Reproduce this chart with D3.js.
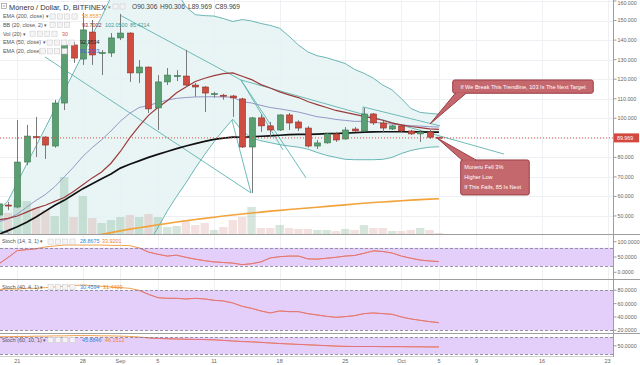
<!DOCTYPE html>
<html><head><meta charset="utf-8">
<script src="https://cdn.jsdelivr.net/npm/d3@7"></script>
<style>body{margin:0;background:#fff}svg{display:block;font-family:"Liberation Sans",Arial,sans-serif}</style>
</head><body><svg id="c" width="640" height="365"></svg>
<script>
// ---------- DATA ----------
const days=["2017-08-19","2017-08-20","2017-08-21","2017-08-22","2017-08-23","2017-08-24","2017-08-25","2017-08-26","2017-08-27","2017-08-28","2017-08-29","2017-08-30","2017-08-31",
"2017-09-01","2017-09-02","2017-09-03","2017-09-04","2017-09-05","2017-09-06","2017-09-07","2017-09-08","2017-09-09","2017-09-10","2017-09-11","2017-09-12","2017-09-13","2017-09-14","2017-09-15","2017-09-16","2017-09-17","2017-09-18","2017-09-19","2017-09-20","2017-09-21","2017-09-22","2017-09-23","2017-09-24","2017-09-25","2017-09-26","2017-09-27","2017-09-28","2017-09-29","2017-09-30",
"2017-10-01","2017-10-02","2017-10-03","2017-10-04","2017-10-05"];
const open=[50.5,55.6,54.6,77.6,90.6,90.4,85.8,107.8,137.5,130.3,144.1,133.2,133.4,141.1,143.6,123.2,126.2,105.3,118.6,121.4,121.6,117,116,112.2,111.8,111.4,109.9,85.3,100.2,96.1,94,101.7,98.1,95,85.8,87.4,92,89.4,94.5,93.5,102.2,97.6,94.5,96.1,93.5,92,93,90.306];
const high=[57,57.2,99.1,96.6,100.7,90.8,109.4,140.1,139,153.9,150.3,134.9,143.6,153.4,144,129.8,126.5,122.1,125.7,124.6,135,118,116.5,113.5,112.5,112,110.5,100.7,102,98.1,102,102.7,99,96,88.9,92.5,93,95.5,95.5,105.3,102.7,98.6,96.6,96.6,94,94,94,90.306];
const low=[49.5,53,54,76,80.2,79.2,85,104.2,128.3,127.3,127.3,122.1,131.4,140,118.6,118,102.7,94,117,119,116,111,103.2,110.5,109.5,100.7,84.8,61.8,93,90.4,93.5,94,93.5,85,84.3,87,87.9,89,92.9,93,96.6,93,94,92.5,91.5,87.9,89.5,89.969];
const close=[56.2,55.2,77.6,90.9,90.3,86.3,107.8,137.5,130.8,145.2,132.4,133.6,141.1,143.6,123.2,126.2,104.8,118.6,122.1,121.8,117,116,112.9,112.6,111.4,110.4,85.3,100.2,96.1,94,101.7,97.6,95,85.8,87.4,92,88.9,94,93.5,102.2,97.6,95,96.1,93.5,92,93,90.306,89.969];
const volume=[25,21,34,33,26,24,18,57,17,38,16,11,14,17,19,17,20,17,7,8,14,9,11,4,7,14,17,27,6,6,9,6,5,5,4,4,3,5,4,9,6,6,3,3,4,6,4,1];
const ema200=[33.0,33.8,34.6,35.4,36.2,37.0,37.8,38.5,39.1,39.5,39.9,40.6,41.5,42.4,43.3,44.0,44.7,45.5,46.2,46.9,47.6,48.2,48.8,49.4,50.0,50.5,51.0,51.5,52.0,52.5,52.9,53.3,53.7,54.1,54.5,54.9,55.3,55.7,56.1,56.5,56.9,57.2,57.5,57.8,58.1,58.4,58.65,58.86];
const ema50=[40.5,42.5,44.5,46.8,49.5,52.5,55.5,58.0,61.0,64.0,66.5,69.0,71.5,74.5,76.5,78.2,80.0,81.5,83.0,84.5,85.8,87.0,88.2,89.2,89.8,90.4,90.3,90.5,90.8,91.0,91.3,91.6,91.8,91.8,91.9,92.1,92.2,92.4,92.6,92.9,93.0,93.1,93.1,93.1,93.0,93.0,92.9,92.95];
const ema20=[47,48.5,51,54.5,58,61,65,70,75,80.5,85,89,93.5,98.5,102.5,105.5,106.5,108,109.3,110.2,110.6,110.9,111,111,110.9,110.8,108.5,107.8,106.6,105.5,104.8,104,103.2,102,100.8,100.2,99.4,98.9,98.4,98.5,98,97.5,97,96.6,96.2,96,95.7,95.5];
const bbBasis=[48,48.8,50,52,54,55.5,57.5,59.5,62.5,66,69.5,72.5,77,83,90,96,101.5,105.5,109,113,116,118.8,120.5,121.8,122.8,123.2,121.5,119.8,117.2,115.5,113.5,112,110.6,108.6,107,105.5,104,103,102,101,100,99,97.5,96.6,95.8,95.2,94.6,94.3];
const bbUpper=[53,57.7,67.1,76.6,85.8,95.2,104.7,114,123.4,132.9,142.6,151.9,162,172,180,185,185,180,172,165,157,153,152.5,152.3,151,149.5,150.5,149.8,148.5,147.5,146,142,137.5,134,132,131,129.5,128,125,123,120.5,117,114.5,110,105,103,102.5,102.05];
const bbLower=[42.5,41.5,36,30,24,20,14,8,5,3,2,2,3,5,10,18,36,44,52.5,60,67,74.5,81.5,88,94,99.5,93.5,89.8,88.5,87.5,86.5,85.8,85.2,84.2,82.5,81,80,79,78.8,78.8,78.8,79,80,82,83.5,84.5,85.2,85.42];
const stoch14=[27,48,71,74,77,83,86,89,89,89,89,89,88,88,87,80,66,59,53,56,49,43,38,34,32,30,25,28,34,47,51,53,53,44,43,46,49,53,55,62,70,68,63,53,46,40,37,35];
const stoch40=[81,82,82,83,83,84,85,86,87,88,87,86,85,84,83,80,74,69,68,68,67,68,67,65,64,61,56,53,49,46,49,48,48,45,43,41,39.5,40.5,42,45,46,45,44,40,37,35,33,31.5];
const stoch60=[82,82,83,83,84,84,85,85,86,86,86,85,85,84,83,81,78,76,75,74,73,72.5,72,71,69,67,65,64,62,60,58,56.5,55,53.5,52,50.5,49,48,47.5,47.5,47.5,47,47,47,46.5,46.5,46,46];
const priceTicks=[50,60,70,80,90,100,110,120,130,140,150,160];
const timeTicks=[["2017-08-21","21"],["2017-08-28","28"],["2017-09-01","Sep"],["2017-09-05","5"],["2017-09-11","11"],["2017-09-18","18"],["2017-09-25","25"],["2017-10-01","Oct"],["2017-10-05","5"],["2017-10-09","9"],["2017-10-16","16"],["2017-10-23","23"]];
// drawings: [dayIndexFromStart, price]
const trendLines=[
 [[4.96,131.4],[26.94,61.8]],
 [[12.96,152.8],[25.87,119.6]],
 [[25.87,119.6],[32.81,69.5]],
 [[25.87,119.6],[30.36,83.8]],
 [[25.87,119.6],[53.94,81.7]],
 [[24.91,99.1],[26.94,61.8]],
 [[38.9,105.8],[38.9,101.2]],
 [[38.9,105.8],[47.13,96.1]]
];
const callouts=[
 {l:48.47,r:63.47,top:119.6,bot:112.8,tip:[46.05,97.1],base:[48.75,49.9],edge:"bot",anchor:"middle",tx:55.97,
  lines:[["If We Break This Trendline, 103 Is The Next Target",115.2]]},
 {l:49.32,r:56.64,top:78.67,bot:60.77,tip:[46.8,89.93],base:[49.45,50.95],edge:"top",anchor:"start",tx:49.7,
  lines:[["Monero Fell 3%",74.3],["Higher Low",68.9],["If This Fails, 85 Is Next",63.8]]}
];
const lastPrice=89.969;

// ---------- SETUP ----------
const svg=d3.select("#c");
const parse=d3.utcParse("%Y-%m-%d");
const D=days.map(parse);
const x=d3.scaleUtc().domain([parse("2017-08-21"),parse("2017-10-23")]).range([17.3,607.6]);
const xi=i=>x(new Date(D[0].getTime()+i*864e5));
const AX=613.5;
const yP=d3.scaleLinear().domain([40.79,160.51]).range([234,0]);
const yV=d3.scaleLinear().domain([0,100]).range([234,134]);
const yS1=d3.scaleLinear().domain([0,100]).range([272.3,241.7]);
const yS2=d3.scaleLinear().domain([20,80]).range([330.3,290.3]);
const yS3=d3.scaleLinear().domain([20,80]).range([354.3,337.3]);
const panes=[[0,234],[234,279],[279,333],[333,356]];
const defs=svg.append("defs");
panes.forEach((p,k)=>defs.append("clipPath").attr("id","cp"+k).append("rect").attr("x",0).attr("y",p[0]).attr("width",AX).attr("height",p[1]-p[0]));

svg.append("rect").attr("width",640).attr("height",365).attr("fill","#fff");

// grid
const grid=svg.append("g").attr("stroke","#eef0f4").attr("stroke-width",1);
timeTicks.forEach(t=>{const xx=Math.round(x(parse(t[0])))+0.5;grid.append("line").attr("x1",xx).attr("x2",xx).attr("y1",0).attr("y2",356);});
priceTicks.forEach(v=>{const yy=Math.round(yP(v))+0.5;grid.append("line").attr("x1",0).attr("x2",AX).attr("y1",yy).attr("y2",yy);});

// ---------- MAIN PANE ----------
const main=svg.append("g").attr("clip-path","url(#cp0)");
const idx=d3.range(days.length);
main.append("path").attr("fill","#e4f3f3").attr("opacity",0.8)
 .attr("d",d3.area().x(i=>x(D[i])).y0(i=>yP(bbLower[i])).y1(i=>yP(bbUpper[i]))(idx));
main.selectAll("rect.vol").data(idx).join("rect").attr("class","vol")
 .attr("x",i=>x(D[i])-4.2).attr("width",8.4).attr("y",i=>yV(volume[i])).attr("height",i=>yV(0)-yV(volume[i]))
 .attr("fill",i=>close[i]>=open[i]?"rgba(107,165,131,0.28)":"rgba(200,120,110,0.22)");
const line=(arr,ys)=>d3.line().x(i=>x(D[i])).y(i=>ys(arr[i]))(idx);
main.append("path").attr("d",line(bbUpper,yP)).attr("fill","none").attr("stroke","#5aaeae").attr("stroke-width",0.9);
main.append("path").attr("d",line(bbLower,yP)).attr("fill","none").attr("stroke","#5aaeae").attr("stroke-width",0.9);
trendLines.forEach(l=>main.append("line").attr("x1",xi(l[0][0])).attr("y1",yP(l[0][1])).attr("x2",xi(l[1][0])).attr("y2",yP(l[1][1]))
 .attr("stroke","#5fb3b0").attr("stroke-width",0.9));
main.append("path").attr("d",line(ema200,yP)).attr("fill","none").attr("stroke","#f2a33a").attr("stroke-width",1.6);
main.append("path").attr("d",line(ema20,yP)).attr("fill","none").attr("stroke","#9497c6").attr("stroke-width",1);
main.append("path").attr("d",line(bbBasis,yP)).attr("fill","none").attr("stroke","#9c3a3a").attr("stroke-width",1.2);
main.append("path").attr("d",line(ema50,yP)).attr("fill","none").attr("stroke","#111").attr("stroke-width",1.7);
const cg=main.selectAll("g.c").data(idx).join("g");
cg.append("line").attr("x1",i=>Math.round(x(D[i]))+0.5).attr("x2",i=>Math.round(x(D[i]))+0.5)
 .attr("y1",i=>yP(high[i])).attr("y2",i=>yP(low[i])).attr("stroke","#7a7a7a").attr("stroke-width",1);
cg.append("rect").attr("x",i=>Math.round(x(D[i]))-2.5).attr("width",6)
 .attr("y",i=>yP(Math.max(open[i],close[i]))).attr("height",i=>Math.max(1,Math.abs(yP(open[i])-yP(close[i]))))
 .attr("fill",i=>close[i]>=open[i]?"#5a9f72":"#cf4c40").attr("stroke",i=>close[i]>=open[i]?"#3c7550":"#8e2f27").attr("stroke-width",0.6);
main.append("line").attr("x1",0).attr("x2",AX).attr("y1",yP(lastPrice)).attr("y2",yP(lastPrice))
 .attr("stroke","#d75442").attr("stroke-dasharray","1,2").attr("stroke-width",1);

// callouts
callouts.forEach(c=>{
 const g=svg.append("g");
 const ey=c.edge==="bot"?yP(c.bot):yP(c.top);
 g.append("rect").attr("x",xi(c.l)).attr("y",yP(c.top)).attr("width",xi(c.r)-xi(c.l)).attr("height",yP(c.bot)-yP(c.top))
  .attr("rx",2).attr("fill","#c4686e").attr("stroke","#9b3e45").attr("stroke-width",1);
 g.append("path").attr("d",`M${xi(c.base[0])},${ey}L${xi(c.tip[0])},${yP(c.tip[1])}L${xi(c.base[1])},${ey}Z`)
  .attr("fill","#c4686e").attr("stroke","#9b3e45").attr("stroke-width",1);
 g.append("line").attr("x1",xi(c.base[0])+0.8).attr("x2",xi(c.base[1])-0.8).attr("y1",ey).attr("y2",ey).attr("stroke","#c4686e").attr("stroke-width",1.6);
 c.lines.forEach(t=>g.append("text").attr("x",xi(c.tx)).attr("y",yP(t[1])).attr("text-anchor",c.anchor)
  .attr("fill","#fff").attr("font-size",5.6).text(t[0]));
});

// ---------- STOCH PANES ----------
function stochPane(k,ys,data){
 const g=svg.append("g").attr("clip-path",`url(#cp${k})`);
 const y80=ys(80),y20=ys(20);
 g.append("rect").attr("x",0).attr("width",AX).attr("y",y80).attr("height",y20-y80).attr("fill","#e4cffb");
 const pth=d3.line().x(i=>x(D[i])).y(i=>ys(data[i]))(idx);
 g.append("path").attr("d",pth).attr("fill","none").attr("stroke","#f2a04e").attr("stroke-width",1);
 const bid="band"+k;
 defs.append("clipPath").attr("id",bid).append("rect").attr("x",0).attr("width",AX).attr("y",y80).attr("height",y20-y80);
 g.append("g").attr("clip-path",`url(#${bid})`).append("path").attr("d",pth).attr("fill","none").attr("stroke","#e27283").attr("stroke-width",1);
 [80,20].forEach(v=>g.append("line").attr("x1",0).attr("x2",AX).attr("y1",Math.round(ys(v))+0.5).attr("y2",Math.round(ys(v))+0.5)
  .attr("stroke","#7f7f8f").attr("stroke-dasharray","3,2").attr("stroke-width",0.8));
}
stochPane(1,yS1,stoch14);
stochPane(2,yS2,stoch40);
stochPane(3,yS3,stoch60);

// separators & axis
const sep=svg.append("g").attr("stroke","#9d9d9d").attr("stroke-width",1);
[234,279,333].forEach(v=>sep.append("line").attr("x1",0).attr("x2",640).attr("y1",v+0.5).attr("y2",v+0.5));
sep.append("line").attr("x1",0).attr("x2",AX).attr("y1",356.5).attr("y2",356.5).attr("stroke","#d0d0d0");
sep.append("line").attr("x1",AX).attr("x2",AX).attr("y1",0).attr("y2",357);

// right axis labels
const ax=svg.append("g").attr("font-size",5.3).attr("fill","#666");
function axLabels(ys,vals,fmt){
 vals.forEach(v=>{const yy=ys(v);
  ax.append("line").attr("x1",AX).attr("x2",AX+3).attr("y1",yy).attr("y2",yy).attr("stroke","#9d9d9d");
  ax.append("text").attr("x",AX+4).attr("y",Math.max(yy+1.9,4.6)).text(fmt(v));});
}
axLabels(yP,priceTicks,d3.format(".3f"));
axLabels(yS1,[100,50,0],d3.format(".4f"));
axLabels(yS2,[80,60,40,20],d3.format(".4f"));
axLabels(yS3,[50],d3.format(".4f"));
svg.append("rect").attr("x",AX+0.5).attr("y",yP(lastPrice)-4.5).attr("width",25).attr("height",9).attr("fill","#d4493f");
svg.append("text").attr("x",AX+3.5).attr("y",yP(lastPrice)+2).attr("font-size",5.3).attr("fill","#fff").text(d3.format(".3f")(lastPrice));

// time axis
const tx=svg.append("g").attr("font-size",5.5).attr("fill","#666").attr("text-anchor","middle");
timeTicks.forEach(t=>tx.append("text").attr("x",x(parse(t[0]))).attr("y",363).text(t[1]));

// ---------- LEGENDS ----------
const lg=svg.append("g");
lg.append("rect").attr("x",1.5).attr("y",3.5).attr("width",5).attr("height",5).attr("fill","none").attr("stroke","#888").attr("stroke-width",0.6);
lg.append("line").attr("x1",2.8).attr("x2",5.2).attr("y1",6).attr("y2",6).attr("stroke","#666").attr("stroke-width",0.6);
lg.append("text").attr("x",9).attr("y",9.6).attr("font-size",7.4).attr("fill","#333").text("Monero / Dollar, D, BITFINEX");
lg.append("text").attr("x",108).attr("y",8.6).attr("font-size",5).attr("fill","#888").text("▾");
[113,120].forEach(s=>lg.append("rect").attr("x",s).attr("y",4).attr("width",5).attr("height",5).attr("fill","#f3f3f3").attr("stroke","#c8c8c8").attr("stroke-width",0.5));
[["O90.306",132],["H90.306",160],["L89.969",188],["C89.969",215]].forEach(o=>lg.append("text").attr("x",o[1]).attr("y",9.4).attr("font-size",6.6).attr("fill","#444").text(o[0]));
function squares(x0,y,n){for(let k=0;k<n;k++)lg.append("rect").attr("x",x0+k*7.3).attr("y",y-4.4).attr("width",5.2).attr("height",5.2).attr("fill","#f4f4f4").attr("stroke","#c9c9c9").attr("stroke-width",0.5);}
const rows=[
 ["EMA (200, close)",18.3,50,4,[["58.8587","#f0a030",82]]],
 ["BB (20, close, 2)",26.9,50,3,[["93.7002","#8b2e2e",82],["102.0500","#3a9a9a",105],["85.4214","#3a9a9a",130]]],
 ["Vol (20)",35.5,30,4,[["30","#d75442",62]]],
 ["EMA (50, close)",44.4,47,4,[["92.9534","#222",80]]],
 ["EMA (20, close)",53.1,40,4,[["91.2323","#3a5bd0",80]]]
];
rows.forEach(r=>{
 lg.append("text").attr("x",3).attr("y",r[1]).attr("font-size",5.4).attr("fill","#555").text(r[0]+" ▾");
 squares(r[2],r[1],r[3]);
 r[4].forEach(v=>lg.append("text").attr("x",v[2]).attr("y",r[1]).attr("font-size",5.4).attr("fill",v[1]).text(v[0]));
});
const srows=[
 ["Stoch (14, 3, 1)",243.4,[["28.8675",80],["33.9201",102]]],
 ["Stoch (40, 4, 1)",288.8,[["30.4594",80],["31.4409",103]]],
 ["Stoch (60, 10, 1)",341.8,[["45.8846",82],["46.1512",105]]]
];
srows.forEach(r=>{
 lg.append("text").attr("x",2).attr("y",r[1]).attr("font-size",5.4).attr("fill","#555").text(r[0]+" ▾");
 squares(48,r[1],4);
 lg.append("text").attr("x",r[2][0][1]).attr("y",r[1]).attr("font-size",5.4).attr("fill","#2b8be0").text(r[2][0][0]);
 lg.append("text").attr("x",r[2][1][1]).attr("y",r[1]).attr("font-size",5.4).attr("fill","#f0851e").text(r[2][1][0]);
});
</script></body></html>
